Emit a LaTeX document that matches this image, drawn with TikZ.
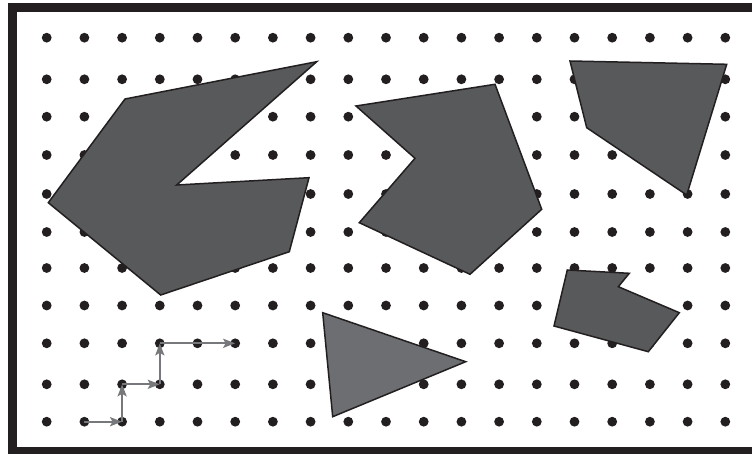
\documentclass[tikz,border=0pt]{standalone}
\usepackage{xcolor}
\usepackage{tikz}
\usetikzlibrary{arrows.meta}
\definecolor{tinta}{HTML}{231F20}
\definecolor{grisoscuro}{HTML}{58595B}
\definecolor{grisclaro}{HTML}{6D6E71}
\definecolor{grisflecha}{HTML}{77787B}
\tikzset{
  marco/.style={draw=tinta, line width=9pt},
  punto/.style={fill=tinta},
  figura/.style={draw=tinta, fill=grisoscuro, line width=1.5pt, line join=miter},
  figuraclara/.style={figura, fill=grisclaro},
  flecha/.style={-{Stealth[length=12pt, width=9pt, inset=2.5pt]}, draw=grisflecha, line width=2.3pt},
}

\begin{document}
\begin{tikzpicture}[x=1pt, y=-1pt]
  \clip (0,0) rectangle (752,454);
  \draw[marco] (12.5,7.5) rectangle (760,451.5);
  % dot grid
  \foreach \i in {0,...,18}
    \foreach \y in {37.7,79.3,116.7,155,194,232,268,305.5,343.3,384.3,421.7}
      \fill[punto] (46.7+37.7*\i, \y) circle (4.9pt);
  % shapes
  \draw[figura] (316.7,61.7) -- (176.7,185) -- (309,177.7) -- (289.3,251.7)
    -- (160.7,295) -- (48.3,202.7) -- (125,99) -- cycle;
  \draw[figura] (356,106) -- (495,84.3) -- (541.7,209.3) -- (470,274.3)
    -- (359.3,222.7) -- (415,158.3) -- cycle;
  \draw[figura] (570,61) -- (726.7,64.3) -- (686.7,195) -- (586.7,127.7) -- cycle;
  \draw[figura] (567.3,270) -- (629.3,273.3) -- (618.3,286.7) -- (679.3,312.7)
    -- (648.3,351.7) -- (554,326) -- cycle;
  \draw[figuraclara] (322.7,312.7) -- (465.7,361.7) -- (332.7,416.7) -- cycle;
  % path of steps
  \coordinate (p0) at (84.4,421.7);
  \coordinate (p1) at (122.1,421.7);
  \coordinate (p2) at (122.1,384.3);
  \coordinate (p3) at (159.8,384.3);
  \coordinate (p4) at (159.8,343.3);
  \coordinate (p5) at (235.2,343.3);
  \draw[flecha] (p0) -- (p1);
  \draw[flecha] (p1) -- (p2);
  \draw[flecha] (p2) -- (p3);
  \draw[flecha] (p3) -- (p4);
  \draw[flecha] (p4) -- (p5);
\end{tikzpicture}
\end{document}
